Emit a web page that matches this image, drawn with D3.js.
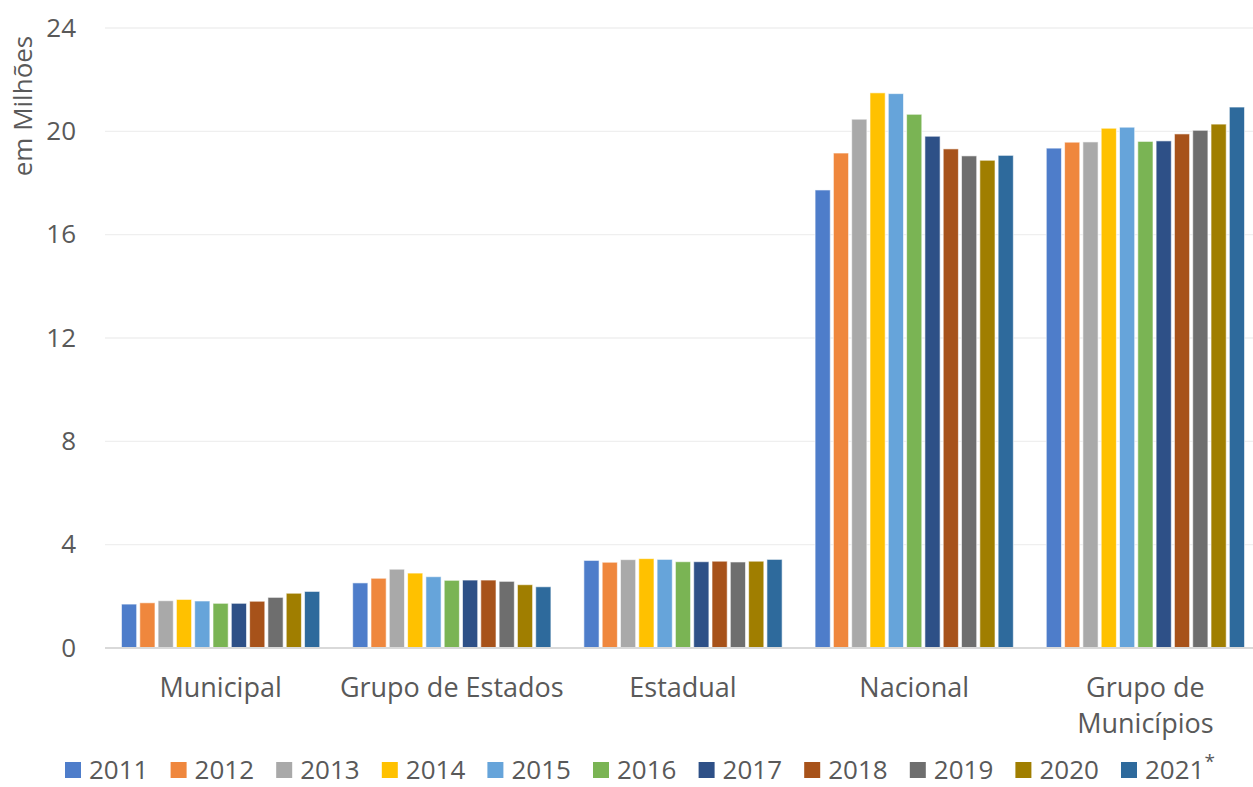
<!DOCTYPE html>
<html>
<head>
<meta charset="utf-8">
<script src="https://cdn.jsdelivr.net/npm/d3@7"></script>
<style>
  body { margin: 0; background: #fff; }
  text { font-family: "Open Sans", sans-serif; fill: #595959; }
</style>
</head>
<body>
<svg id="chart"></svg>
<script>
// categories and tick labels
const categories = ['Municipal', 'Grupo de Estados', 'Estadual', 'Nacional', 'Grupo de Municípios'];
const categoryLines = [['Municipal'], ['Grupo de Estados'], ['Estadual'], ['Nacional'], ['Grupo de', 'Municípios']];
const years = ['2011', '2012', '2013', '2014', '2015', '2016', '2017', '2018', '2019', '2020', '2021'];
const yTicks = [0, 4, 8, 12, 16, 20, 24];

// values in millions, one array per year (same order as categories)
const v2011 = [1.70, 2.52, 3.39, 17.73, 19.35];
const v2012 = [1.75, 2.70, 3.32, 19.16, 19.58];
const v2013 = [1.83, 3.05, 3.42, 20.47, 19.59];
const v2014 = [1.88, 2.90, 3.46, 21.49, 20.12];
const v2015 = [1.82, 2.76, 3.43, 21.46, 20.16];
const v2016 = [1.73, 2.62, 3.34, 20.66, 19.61];
const v2017 = [1.73, 2.63, 3.34, 19.81, 19.63];
const v2018 = [1.81, 2.63, 3.36, 19.32, 19.90];
const v2019 = [1.96, 2.58, 3.33, 19.05, 20.04];
const v2020 = [2.12, 2.45, 3.36, 18.88, 20.28];
const v2021 = [2.19, 2.37, 3.43, 19.07, 20.94];

const colors = ['#4E7DCA', '#EF873D', '#A9A9A9', '#FFC100', '#66A4DA', '#7AB454',
                '#2E5087', '#A7521A', '#6E6E6E', '#A07E00', '#2E6A9C'];

const series = [v2011, v2012, v2013, v2014, v2015, v2016, v2017, v2018, v2019, v2020, v2021];
const table = categories.map((c, i) => ({
    category: c,
    values: years.map((y, j) => ({ year: y, value: series[j][i] }))
}));

const width = 1253, height = 787;
const plot = { left: 105, right: 1261, top: 28, bottom: 648 };
const fontSize = 26;
const labelSize = 27;

const svg = d3.select('#chart')
    .attr('width', width)
    .attr('height', height);

// scales
const x0 = d3.scaleBand()
    .domain(categories)
    .range([plot.left, plot.right])
    .padding(0);

const x1 = d3.scaleBand()
    .domain(years)
    .range([0, x0.bandwidth()])
    .paddingInner(0.17)
    .paddingOuter(0.9);

const y = d3.scaleLinear()
    .domain([0, 24])
    .range([plot.bottom, plot.top]);

const color = d3.scaleOrdinal().domain(years).range(colors);

// gridlines
svg.append('g')
    .selectAll('line')
    .data(yTicks.filter(d => d > 0))
    .join('line')
    .attr('x1', plot.left)
    .attr('x2', plot.right)
    .attr('y1', d => y(d))
    .attr('y2', d => y(d))
    .attr('stroke', '#efefef')
    .attr('stroke-width', 1.3);

// y axis labels
const yAxis = d3.axisLeft(y).tickValues(yTicks).tickSize(0).tickPadding(0);
const yAxisGroup = svg.append('g')
    .attr('transform', `translate(76, 0)`)
    .call(yAxis);
yAxisGroup.select('.domain').remove();
yAxisGroup.selectAll('text')
    .style('font-family', '"Open Sans", sans-serif')
    .style('font-size', fontSize + 'px')
    .attr('fill', '#595959');

// y title
svg.append('text')
    .attr('transform', 'rotate(-90)')
    .attr('x', -106)
    .attr('y', 32)
    .attr('text-anchor', 'middle')
    .style('font-size', fontSize + 'px')
    .text('em Milhões');

// bars
const groups = svg.append('g')
    .selectAll('g')
    .data(table)
    .join('g')
    .attr('transform', d => `translate(${x0(d.category)}, 0)`);

groups.selectAll('rect')
    .data(d => d.values)
    .join('rect')
    .attr('x', d => x1(d.year))
    .attr('y', d => y(d.value))
    .attr('width', x1.bandwidth())
    .attr('height', d => y(0) - y(d.value))
    .attr('fill', d => color(d.year))
    .attr('stroke', '#ffffff')
    .attr('stroke-opacity', 0.6)
    .attr('stroke-width', 1);

// baseline
svg.append('line')
    .attr('x1', plot.left)
    .attr('x2', plot.right)
    .attr('y1', y(0))
    .attr('y2', y(0))
    .attr('stroke', '#d9d9d9')
    .attr('stroke-width', 2);

// x axis labels
const xAxisGroup = svg.append('g');
categories.forEach((c, i) => {
    const t = xAxisGroup.append('text')
        .attr('x', x0(c) + x0.bandwidth() / 2)
        .attr('y', 697)
        .attr('text-anchor', 'middle')
        .style('font-size', labelSize + 'px');
    categoryLines[i].forEach((line, k) => {
        t.append('tspan')
            .attr('x', x0(c) + x0.bandwidth() / 2)
            .attr('dy', k === 0 ? 0 : 36)
            .text(line);
    });
});

// legend
const legend = svg.append('g')
    .selectAll('g')
    .data(years)
    .join('g')
    .attr('transform', (d, i) => `translate(${65 + i * 105.6}, 770)`);

legend.append('rect')
    .attr('x', 0)
    .attr('y', -8)
    .attr('width', 16)
    .attr('height', 16)
    .attr('fill', d => color(d));

const legendText = legend.append('text')
    .attr('x', 24)
    .attr('y', 9)
    .style('font-size', fontSize + 'px')
    .text(d => d);

legendText.filter(d => d === '2021')
    .append('tspan')
    .attr('dy', -11)
    .style('font-size', '19px')
    .text('*');
</script>
</body>
</html>
